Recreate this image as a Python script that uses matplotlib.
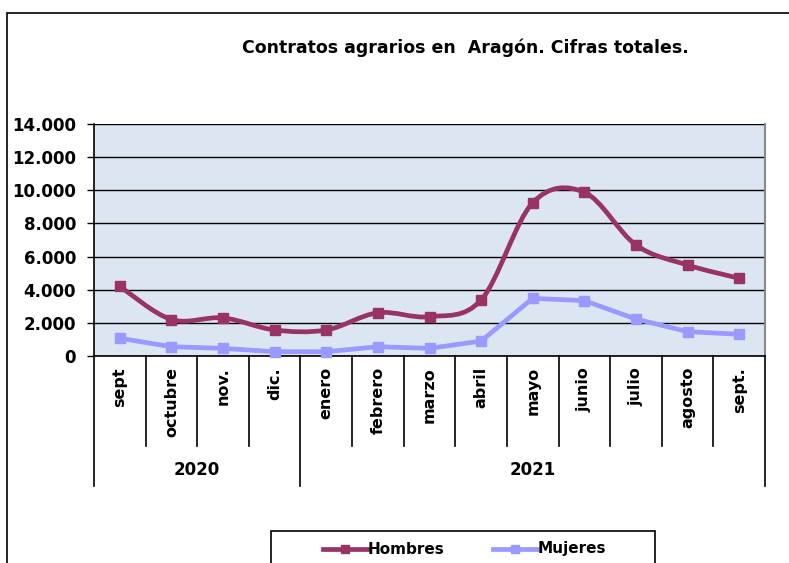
import numpy as np
import matplotlib
matplotlib.use("Agg")
from matplotlib import pyplot as plt
from matplotlib.path import Path
from matplotlib.patches import PathPatch, Rectangle
from matplotlib.lines import Line2D
from matplotlib.ticker import FuncFormatter

plt.rcParams['font.family'] = ['DejaVu Sans']

# data
meses = ['sept', 'octubre', 'nov.', 'dic.', 'enero', 'febrero', 'marzo',
         'abril', 'mayo', 'junio', 'julio', 'agosto', 'sept.']
anios = ['2020', '2021']
meses_por_anio = [4, 9]
hombres = [4200, 2200, 2300, 1570, 1570, 2610, 2370, 3380, 9250, 9880, 6700, 5490, 4690]
mujeres = [1070, 560, 460, 260, 260, 560, 460, 900, 3480, 3340, 2230, 1470, 1310]

hombres_color = '#993366'
mujeres_color = '#9999FF'
bg_color = '#DCE6F2'

W, H = 789, 563
fig = plt.figure(figsize=(W / 100, H / 100), dpi=100)

def fx(px):
	return px / W

def fy(py):
	return 1 - py / H

# outer chart border
fig.patches.append(Rectangle((fx(7), fy(600)), fx(800) - fx(7), fy(13) - fy(600),
	transform=fig.transFigure, fill=False, edgecolor='black', linewidth=1.2))

ax = fig.add_axes([fx(94), fy(356), fx(765) - fx(94), fy(124) - fy(356)])
ax.set_facecolor(bg_color)
n = len(meses)
x = np.arange(n)
ax.set_xlim(-0.5, n - 0.5)
ax.set_ylim(0, 14000)
ax.set_yticks(np.arange(0, 14001, 2000))
ax.yaxis.set_major_formatter(FuncFormatter(lambda v, p: '{:,.0f}'.format(v).replace(',', '.')))
for lab in ax.get_yticklabels():
	lab.set_fontweight('bold')
	lab.set_fontsize(12)
ax.tick_params(axis='y', length=5, width=1, direction='out', pad=8)
ax.set_xticks([])
ax.grid(axis='y', color='black', linewidth=1)
ax.set_axisbelow(True)
ax.spines['top'].set_visible(False)
ax.spines['right'].set_color('#888888')
ax.spines['right'].set_linewidth(1.5)
ax.spines['left'].set_linewidth(1.2)
ax.spines['bottom'].set_linewidth(1.2)

# smoothed line (Excel style bezier) for Hombres
def smooth_path(xs, ys):
	pts = np.column_stack([xs, ys]).astype(float)
	verts = [pts[0]]
	codes = [Path.MOVETO]
	for i in range(len(pts) - 1):
		p0 = pts[i - 1] if i > 0 else pts[i]
		p1 = pts[i]
		p2 = pts[i + 1]
		p3 = pts[i + 2] if i + 2 < len(pts) else pts[i + 1]
		c1 = p1 + (p2 - p0) / 6.0
		c2 = p2 - (p3 - p1) / 6.0
		verts += [c1, c2, p2]
		codes += [Path.CURVE4] * 3
	return Path(verts, codes)

ax.add_patch(PathPatch(smooth_path(x, hombres), facecolor='none', edgecolor=hombres_color,
	linewidth=3.4, capstyle='round', joinstyle='round', zorder=3))
ax.plot(x, hombres, 's', color=hombres_color, markersize=7, zorder=4, clip_on=False)
ax.plot(x, mujeres, '-s', color=mujeres_color, linewidth=3.4, markersize=7, zorder=3, clip_on=False)

# multi-level category axis
month_bottom = fy(446)
year_bottom = fy(486)
ax_left = fx(94)
cat_w = (fx(765) - fx(94)) / n
for i in range(n + 1):
	xx = ax_left + i * cat_w
	bottom = year_bottom if i in (0, meses_por_anio[0], n) else month_bottom
	fig.add_artist(Line2D([xx, xx], [fy(356), bottom], color='black', linewidth=1.2,
		transform=fig.transFigure))
for i, m in enumerate(meses):
	fig.text(ax_left + (i + 0.5) * cat_w, fy(367), m, rotation=90, ha='center', va='top',
		fontsize=11.5, fontweight='bold')
start = 0
for a, k in zip(anios, meses_por_anio):
	fig.text(ax_left + (start + k / 2) * cat_w, fy(470), a, ha='center', va='center',
		fontsize=12, fontweight='bold')
	start += k

fig.text(fx(465), fy(48), 'Contratos agrarios en  Aragón. Cifras totales.', ha='center',
	va='center', fontsize=12.5, fontweight='bold')

# legend box
fig.patches.append(Rectangle((fx(271), fy(600)), fx(655) - fx(271), fy(531) - fy(600),
	transform=fig.transFigure, fill=False, edgecolor='black', linewidth=1.2))
for lx, lab, col in [(323, 'Hombres', hombres_color), (493, 'Mujeres', mujeres_color)]:
	fig.add_artist(Line2D([fx(lx), fx(lx + 44)], [fy(549), fy(549)], color=col, linewidth=3.4,
		transform=fig.transFigure))
	fig.add_artist(Line2D([fx(lx + 22)], [fy(549)], color=col, marker='s', markersize=6,
		linestyle='none', transform=fig.transFigure))
	fig.text(fx(lx + 45), fy(549), lab, ha='left', va='center', fontsize=11, fontweight='bold')

fig.savefig('out.png', dpi=100)
